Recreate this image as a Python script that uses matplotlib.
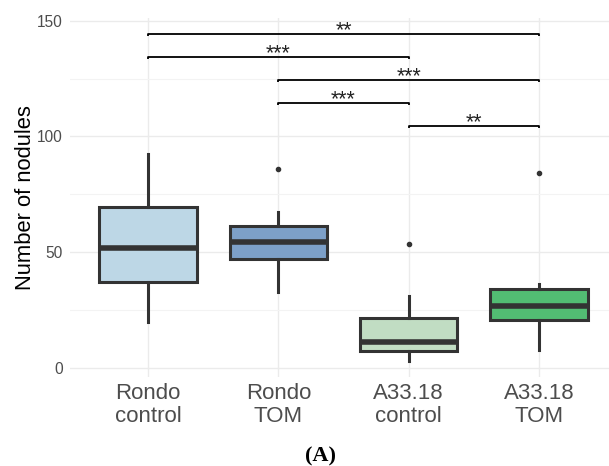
import matplotlib
matplotlib.use("Agg")
import matplotlib.pyplot as plt
from matplotlib.ticker import MultipleLocator

# ---- data ----
categories = ["Rondo\ncontrol", "Rondo\nTOM", "A33.18\ncontrol", "A33.18\nTOM"]
whislo = [19.9, 32.7, 2.9, 7.7]
q1 = [36.9, 46.9, 7.4, 20.6]
med = [51.6, 54.5, 11.2, 26.8]
q3 = [69.6, 61.3, 21.4, 33.9]
whishi = [92.3, 67.2, 31.1, 36.2]
outliers = [[], [86.0], [53.3], [84.2]]
fill_colors = ["#BDD7E6", "#7DA0C8", "#C1DDC3", "#52BD73"]

# significance brackets: (group i, group j), y, label
sig_pairs = [(1, 4), (1, 3), (2, 4), (2, 3), (3, 4)]
sig_y = [144.3, 134.2, 124.4, 114.4, 104.5]
sig_labels = ["**", "***", "***", "***", "**"]

# ---- figure ----
W, H = 609, 466
fig = plt.figure(figsize=(W / 100, H / 100), dpi=100)
left, right, top, bottom = 70, 617, 17.5, 377.4
ax = fig.add_axes([left / W, 1 - bottom / H, (right - left) / W, (bottom - top) / H])

edge = "#333333"
stats = []
for i in range(len(categories)):
    stats.append(dict(med=med[i], q1=q1[i], q3=q3[i], whislo=whislo[i],
                      whishi=whishi[i], fliers=outliers[i]))
positions = list(range(1, len(categories) + 1))
bp = ax.bxp(stats, positions=positions, widths=0.75, patch_artist=True,
            showcaps=False,
            boxprops=dict(edgecolor=edge, linewidth=2.2),
            medianprops=dict(color=edge, linewidth=4.0, solid_capstyle="butt"),
            whiskerprops=dict(color=edge, linewidth=2.2),
            flierprops=dict(marker="o", markerfacecolor=edge, markeredgecolor=edge,
                            markersize=3),
            zorder=3)
for patch, c in zip(bp["boxes"], fill_colors):
    patch.set_facecolor(c)

# brackets
tip = 0.9
for (a, b), y, lab in zip(sig_pairs, sig_y, sig_labels):
    ax.plot([a, a, b, b], [y - tip, y, y, y - tip], color="black", lw=1.3,
            solid_capstyle="butt", zorder=4, clip_on=False)
    ax.text((a + b) / 2, y - 1.0, lab, ha="center", va="baseline",
            fontsize=15.5, color="#222222", family="Liberation Sans", clip_on=False)

ax.set_xlim(0.4, 4.6)
ax.set_ylim(-4.2, 151.4)
ax.yaxis.set_major_locator(MultipleLocator(50))
ax.yaxis.set_minor_locator(MultipleLocator(25))
ax.set_xticks(positions)
ax.set_xticklabels(categories)

for s in ax.spines.values():
    s.set_visible(False)
ax.set_facecolor("white")
ax.grid(which="major", color="#EBEBEB", lw=1.0, zorder=0)
ax.grid(which="minor", axis="y", color="#F3F3F3", lw=0.8, zorder=0)
ax.set_axisbelow(True)
ax.tick_params(which="both", length=0)
ax.tick_params(axis="y", pad=5, labelsize=11.2, labelcolor="#4D4D4D")
ax.tick_params(axis="x", pad=4, labelsize=16, labelcolor="#4D4D4D")
for t in ax.get_xticklabels() + ax.get_yticklabels():
    t.set_family("Liberation Sans")
for t in ax.get_xticklabels():
    t.set_linespacing(1.15)

ax.set_ylabel("Number of nodules", fontsize=15.8, family="Liberation Sans",
              color="black", labelpad=1)

fig.text(320 / W, 1 - 456 / H, "(A)", ha="center", va="center", fontsize=16,
         fontweight="bold", family="Liberation Serif")

fig.savefig("out.png", dpi=100)
